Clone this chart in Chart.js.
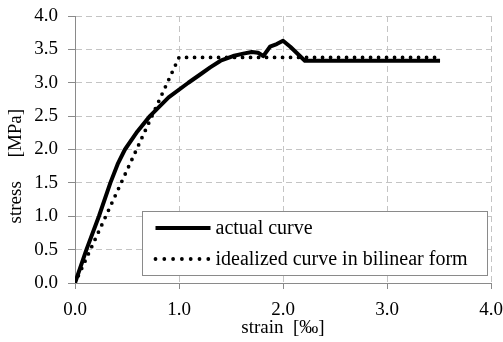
<!DOCTYPE html>
<html>
<head>
<meta charset="utf-8">
<script src="https://cdn.jsdelivr.net/npm/chart.js@4/dist/chart.umd.min.js"></script>
<style>
  html, body { margin: 0; padding: 0; background: #fff; }
  #wrap { width: 503px; height: 342px; }
</style>
</head>
<body>
<div id="wrap"><canvas id="cv"></canvas></div>
<script>
// strain [permille] / stress [MPa]
const actualStrain = [0, 0.11, 0.23, 0.34, 0.41, 0.48, 0.60, 0.72, 0.90, 1.09, 1.20, 1.30, 1.40, 1.52, 1.63, 1.70, 1.76, 1.81, 1.875, 1.94, 2.0, 2.07, 2.13, 2.21, 2.5, 3.0, 3.51]
const actualStress = [0, 0.5, 1.0, 1.5, 1.78, 2.0, 2.27, 2.5, 2.78, 3.0, 3.12, 3.23, 3.33, 3.40, 3.44, 3.46, 3.45, 3.40, 3.54, 3.58, 3.63, 3.54, 3.45, 3.33, 3.33, 3.33, 3.33]

const idealStrain = [0, 1.0, 3.5]
const idealStress = [0, 3.38, 3.38]

const seriesLabels = ['actual curve', 'idealized curve in bilinear form']
const xTitle = 'strain\u00a0\u00a0[‰]'
const yTitle = 'stress\u00a0\u00a0\u00a0\u00a0\u00a0[MPa]' + '\u00a0'.repeat(7)

const FONT = '"Liberation Serif", "Times New Roman", serif'
const AXIS = '#8a8a8a'
const GRID = '#c4c4c4'

function toPoints(xs, ys) {
    let pts = []
    xs.forEach(function (x, i) {
        pts.push({x: x, y: ys[i]})
    })
    return pts
}

// legend drawn inside the plot, lower right
const boxLegend = {
    id: 'boxLegend',
    afterDraw(chart) {
        const ctx = chart.ctx
        const ca = chart.chartArea
        const x0 = ca.left + 67.5, y0 = ca.top + 195.5
        const w = 345, h = 64
        ctx.save()
        ctx.fillStyle = '#fff'
        ctx.fillRect(x0, y0, w, h)
        ctx.strokeStyle = AXIS
        ctx.lineWidth = 1
        ctx.strokeRect(x0, y0, w, h)

        const ds = chart.data.datasets
        const rows = [y0 + 16.5, y0 + 47.5]
        ds.forEach(function (d, i) {
            ctx.beginPath()
            ctx.strokeStyle = d.borderColor
            ctx.lineWidth = d.borderWidth
            ctx.lineCap = d.borderCapStyle || 'butt'
            ctx.setLineDash(i == 0 ? [] : [0, 8.8])
            ctx.moveTo(x0 + 13, rows[i])
            ctx.lineTo(x0 + 68, rows[i])
            ctx.stroke()
            ctx.setLineDash([])
            ctx.fillStyle = '#000'
            ctx.font = '20px ' + FONT
            ctx.textBaseline = 'alphabetic'
            ctx.fillText(d.label, x0 + 73, rows[i] + 6)
        })
        ctx.restore()
    }
}

const data = {
    datasets: [{
        label: seriesLabels[0],
        data: toPoints(actualStrain, actualStress),
        borderColor: '#000',
        borderWidth: 4,
        borderJoinStyle: 'round',
        pointRadius: 0,
        showLine: true,
        tension: 0
    },
    {
        label: seriesLabels[1],
        data: toPoints(idealStrain, idealStress),
        borderColor: '#000',
        borderWidth: 3.8,
        borderDash: [0, 8],
        borderCapStyle: 'round',
        pointRadius: 0,
        showLine: true,
        tension: 0
    }]
}

const options = {
    responsive: true,
    maintainAspectRatio: false,
    animation: false,
    layout: {padding: {top: 16, right: 12, left: 0, bottom: 0}},
    plugins: {
        legend: {display: false},
        tooltip: {enabled: false}
    },
    scales: {
        x: {
            type: 'linear',
            min: 0,
            max: 4,
            afterFit: function (s) {
                s.height = 59
                s.paddingLeft = 0
                s.paddingRight = 0
            },
            ticks: {
                stepSize: 1,
                padding: 10,
                color: '#000',
                font: {family: FONT, size: 19},
                callback: function (v) { return v.toFixed(1) }
            },
            grid: {color: GRID, tickColor: AXIS, tickLength: 6, tickBorderDash: []},
            border: {color: AXIS, dash: [6, 4]},
            title: {
                display: true,
                text: xTitle,
                color: '#000',
                font: {family: FONT, size: 19},
                padding: {top: 0, bottom: 3}
            }
        },
        y: {
            min: 0,
            max: 4,
            afterFit: function (s) {
                s.width = 75
                s.paddingTop = 0
                s.paddingBottom = 0
            },
            ticks: {
                stepSize: 0.5,
                padding: 10,
                color: '#000',
                font: {family: FONT, size: 19},
                callback: function (v) { return v.toFixed(1) }
            },
            grid: {color: GRID, tickColor: AXIS, tickLength: 7, tickBorderDash: []},
            border: {color: AXIS, dash: [6, 4]},
            title: {
                display: true,
                text: yTitle,
                color: '#000',
                font: {family: FONT, size: 19},
                padding: {top: 5, bottom: 0}
            }
        }
    }
}

new Chart(document.getElementById('cv'), {
    type: 'scatter',
    data: data,
    options: options,
    plugins: [boxLegend]
})
</script>
</body>
</html>
